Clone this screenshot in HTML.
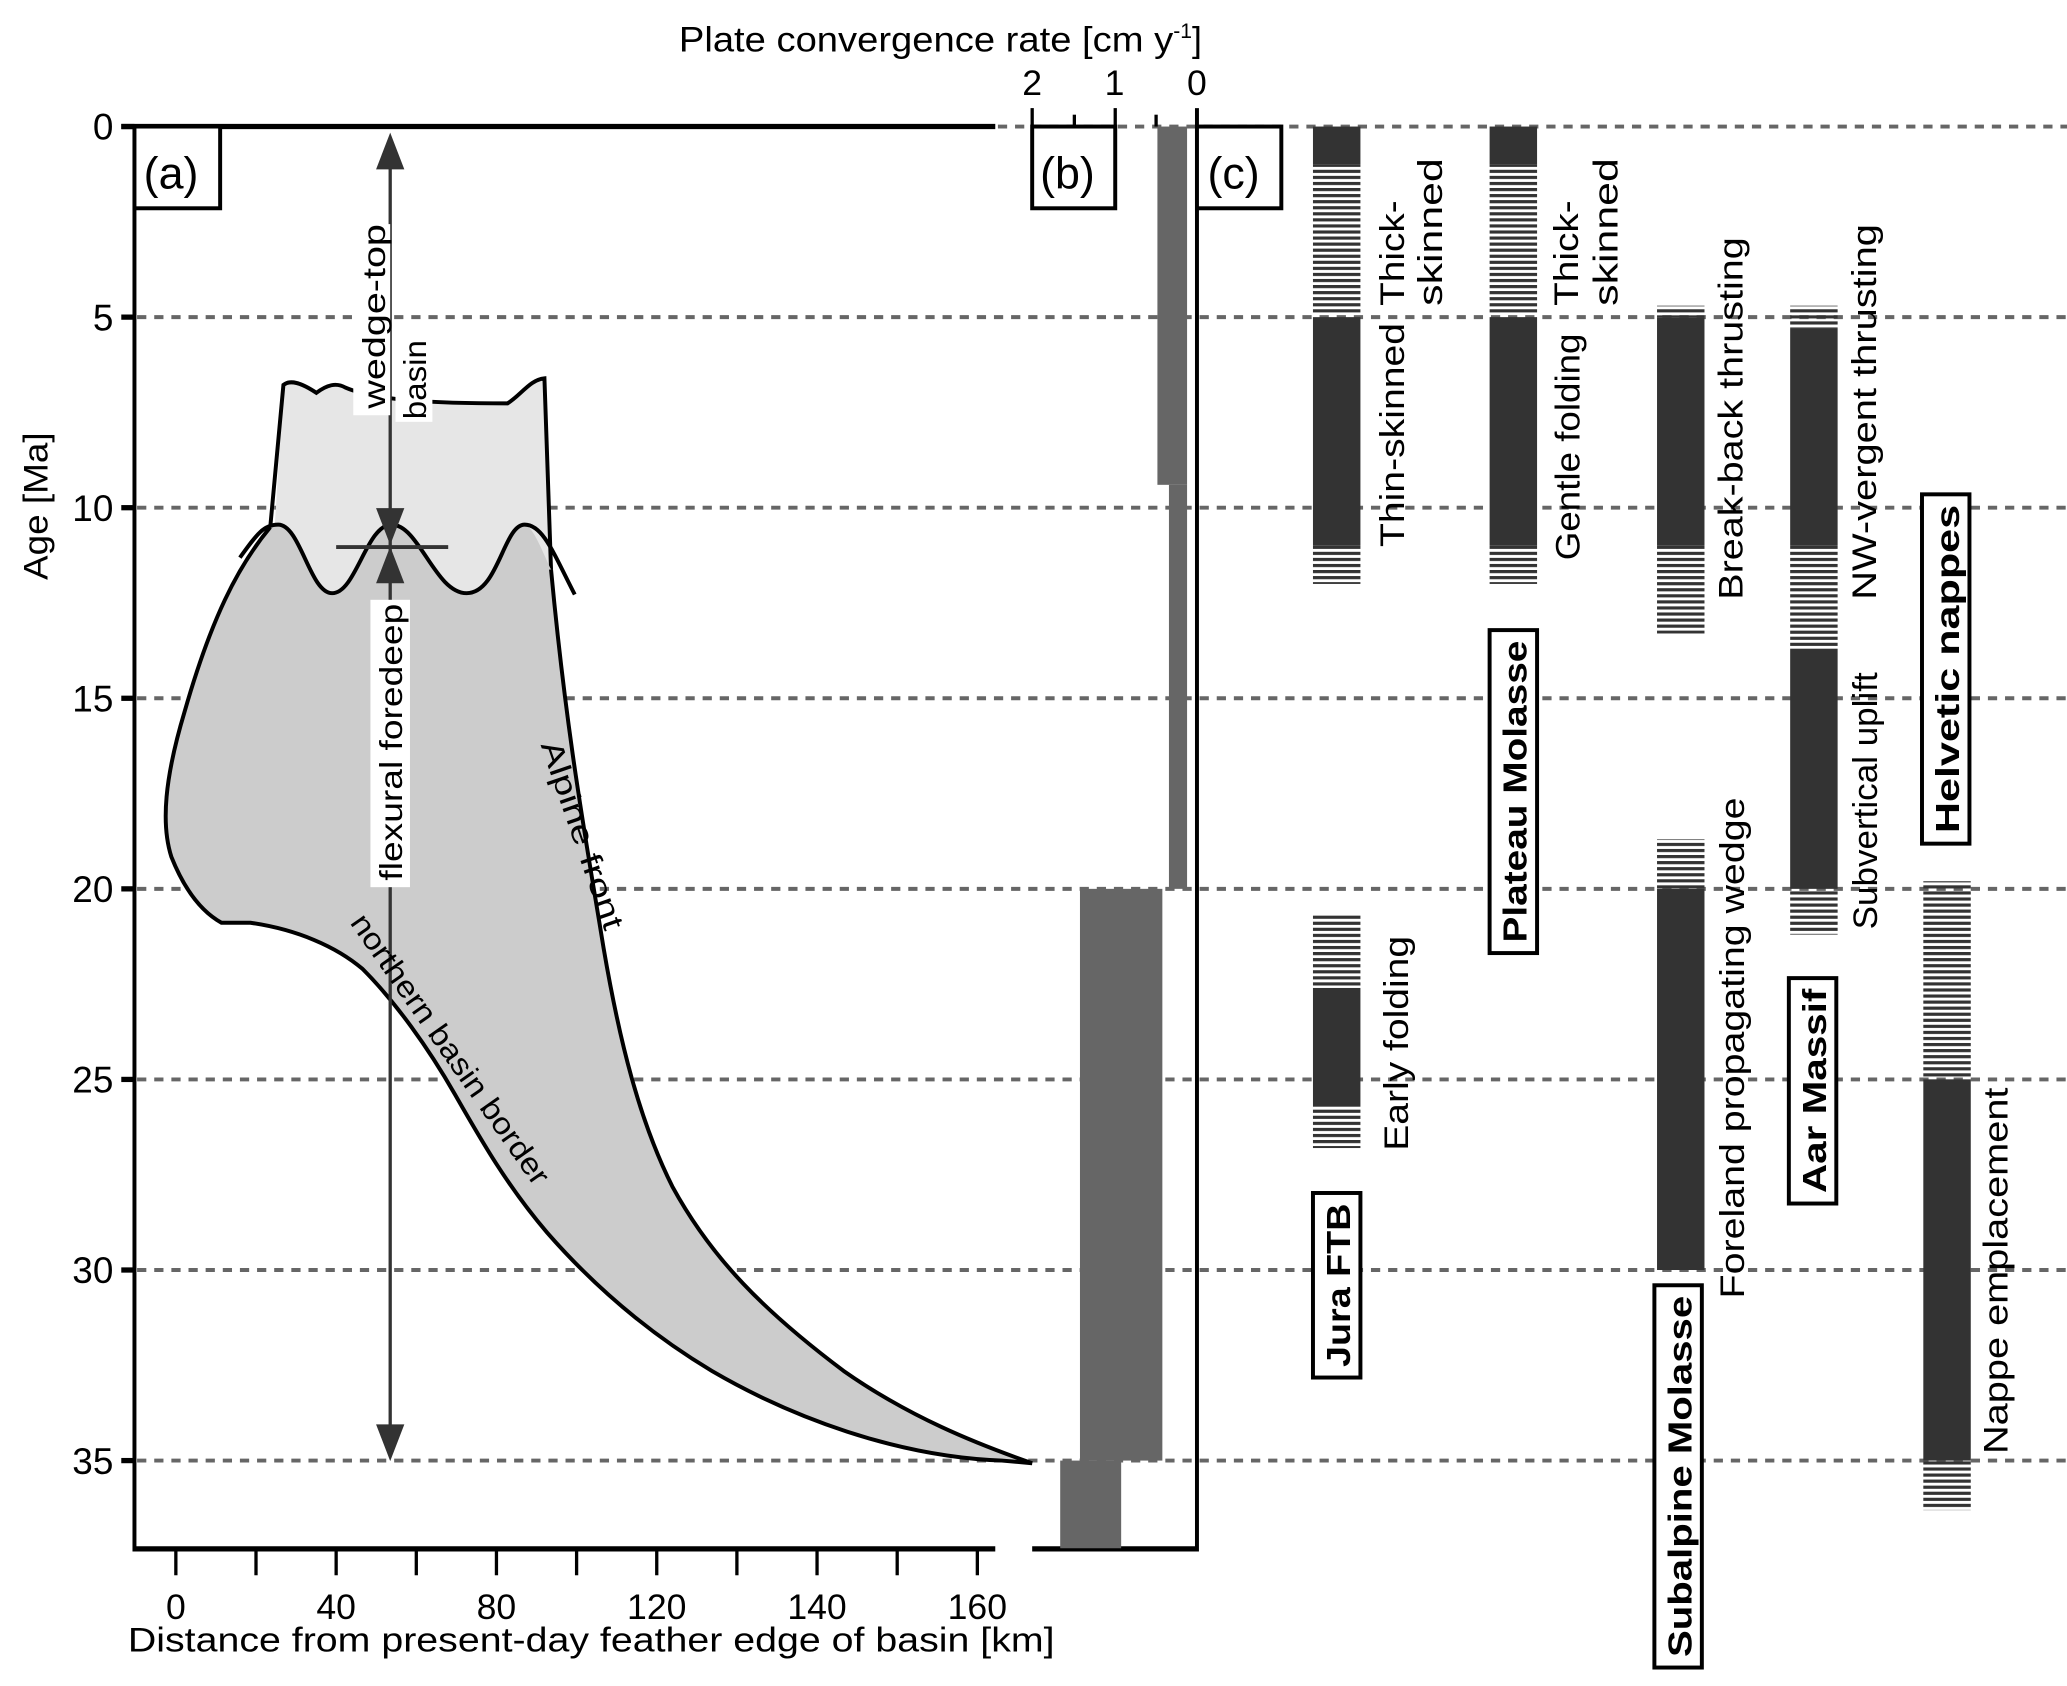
<!DOCTYPE html>
<html><head><meta charset="utf-8"><style>
html,body{margin:0;padding:0;background:#fff}
svg{display:block}
text{font-family:"Liberation Sans",sans-serif;fill:#000}
</style></head><body>
<svg id="chart" width="2067" height="1686" viewBox="0 0 1568 1279" preserveAspectRatio="none" xmlns="http://www.w3.org/2000/svg">
<defs>
<pattern id="hatch" patternUnits="userSpaceOnUse" width="10" height="4.6"><rect x="0" y="0" width="10" height="2.4" fill="#333"/></pattern>
</defs>
<g id="grid"></g>

<path d="M215,292 C220,288 228,290 240,298 C248,292 255,290 262,294 C285,304 330,306 385,306 C395,300 402,288 413,287 L418,455 L205,455 Z" fill="#e6e6e6" stroke="none"/>
<path d="M205,400 L215,292 C220,288 228,290 240,298 C248,292 255,290 262,294 C285,304 330,306 385,306 C395,300 402,288 413,287 L418,432" fill="none" stroke="#000" stroke-width="3"/>
<path d="M205,400 C180,430 160,470 140,540 C125,590 122,625 130,650 C138,670 150,690 168,700 L190,700 C225,705 255,718 275,735 C300,760 325,795 345,830 C365,865 385,900 415,935 C450,975 490,1010 540,1040 C600,1075 680,1105 760,1108 L783,1110 C740,1095 690,1075 640,1040 C580,995 540,955 510,900 C485,850 470,790 458,720 C445,640 430,560 418,432 C412,420 405,400 398,398 C382,398 378,450 354,450 C330,450 318,398 297,398 C278,398 270,450 252,450 C235,450 228,398 211,398 Z" fill="#cccccc" stroke="none"/>
<path d="M205,400 C180,430 160,470 140,540 C125,590 122,625 130,650 C138,670 150,690 168,700 L190,700 C225,705 255,718 275,735 C300,760 325,795 345,830 C365,865 385,900 415,935 C450,975 490,1010 540,1040 C600,1075 680,1105 760,1108 L783,1110" fill="none" stroke="#000" stroke-width="3"/>
<path d="M418,432 C430,560 445,640 458,720 C470,790 485,850 510,900 C540,955 580,995 640,1040 C690,1075 740,1095 783,1110" fill="none" stroke="#000" stroke-width="3"/>
<path d="M182,423 C195,405 200,398 211,398 C228,398 235,450 252,450 C270,450 278,398 297,398 C318,398 330,450 354,450 C378,450 382,398 398,398 C412,398 420,420 436,451" fill="none" stroke="#000" stroke-width="3"/>

<g stroke="#333" fill="#333">
<line x1="296" y1="110" x2="296" y2="1100" stroke-width="2.5"/>
<polygon points="296,102 286,128 306,128"/>
<polygon points="296,412 286,386 306,386"/>
<polygon points="296,416 286,442 306,442"/>
<polygon points="296,1107 286,1081 306,1081"/>
<line x1="255" y1="415" x2="340" y2="415" stroke-width="3"/>
</g>
<rect x="268" y="170" width="28" height="145" fill="#fff"/>
<text transform="translate(292,310) rotate(-90)" font-size="24" textLength="140" lengthAdjust="spacingAndGlyphs">wedge-top</text>
<rect x="300" y="258" width="28" height="62" fill="#fff"/>
<text transform="translate(323,318) rotate(-90)" font-size="24" textLength="60" lengthAdjust="spacingAndGlyphs">basin</text>
<rect x="281" y="455" width="30" height="218" fill="#fff"/>
<text transform="translate(305,668) rotate(-90)" font-size="24" textLength="210" lengthAdjust="spacingAndGlyphs">flexural foredeep</text>
<text transform="translate(410,565) rotate(71)" font-size="23" textLength="150" lengthAdjust="spacingAndGlyphs">Alpine front</text>
<text transform="translate(265,700) rotate(55)" font-size="23" textLength="245" lengthAdjust="spacingAndGlyphs">northern basin border</text>

<g stroke="#000" fill="none">
<line x1="92" y1="96" x2="755" y2="96" stroke-width="4"/>
<line x1="102" y1="96" x2="102" y2="1177" stroke-width="3"/>
<line x1="102" y1="1175" x2="755" y2="1175" stroke-width="4"/>
<line x1="783" y1="1175" x2="908" y2="1175" stroke-width="4"/>
<line x1="908" y1="82" x2="908" y2="1177" stroke-width="3"/>
<line x1="783" y1="82" x2="783" y2="96" stroke-width="2.5"/>
<line x1="815" y1="87" x2="815" y2="96" stroke-width="2.5"/>
<line x1="846" y1="82" x2="846" y2="96" stroke-width="2.5"/>
<line x1="877" y1="87" x2="877" y2="96" stroke-width="2.5"/>
</g>
<g id="yaxis"></g>
<g id="xaxis"></g>
<text transform="translate(36,440) rotate(-90)" font-size="26" textLength="112" lengthAdjust="spacingAndGlyphs">Age [Ma]</text>
<text x="97" y="1253" font-size="26" textLength="703" lengthAdjust="spacingAndGlyphs">Distance from present-day feather edge of basin [km]</text>
<text x="515" y="39" font-size="27"><tspan textLength="375" lengthAdjust="spacingAndGlyphs">Plate convergence rate [cm y</tspan><tspan font-size="16" dy="-10">-1</tspan><tspan dy="10">]</tspan></text>
<g id="rateaxis"></g>
<g id="ratebars"></g>

<g>
<rect x="102" y="96" width="65" height="62" fill="#fff" stroke="#000" stroke-width="3"/>
<text x="109" y="143" font-size="34">(a)</text>
<rect x="783" y="96" width="63" height="62" fill="#fff" stroke="#000" stroke-width="3"/>
<text x="789" y="143" font-size="34">(b)</text>
<rect x="908" y="96" width="64" height="62" fill="#fff" stroke="#000" stroke-width="3"/>
<text x="916" y="143" font-size="34">(c)</text>
</g>
<g id="cbars"></g>
<g id="clabels"></g>
</svg>
<script>
var ageTicks = [0,5,10,15,20,25,30,35];
var kmTickLabels = ["0","40","80","120","140","160"];
var kmTickLabelIdx = [0,2,4,6,8,10];
var kmTickCount = 11;
var rateTicks = [2,1,0];
var rateAgeStart = [0, 9.4, 20, 35];
var rateAgeEnd = [9.4, 20, 35, 37.3];
var rateHigh = [0.48, 0.34, 1.42, 1.66];
var rateLow = [0.12, 0.12, 0.42, 0.92];
var segColumn = [0,0,0,0,0,0,0, 1,1,1,1, 2,2,2,2,2, 3,3,3,3,3, 4,4,4];
var segStart  = [0,1,5,11,20.7,22.6,25.7, 0,1,5,11, 4.7,5,11,18.7,20, 4.7,5.3,11,13.7,20, 19.8,25,35];
var segEnd    = [1,4.9,11,12,22.6,25.7,26.8, 1,4.9,11,12, 5,11,13.3,20,30, 5.3,11,13.7,20,21.2, 25,35,36.3];
var segType   = ["s","h","s","h","h","s","h", "s","h","s","h", "h","s","h","h","s", "h","s","h","s","h", "h","s","h"];
var columnX = [996,1130,1257,1358,1459];

(function(){
var NS="http://www.w3.org/2000/svg";
function yA(a){return 96 + a*(1108-96)/35;}
function xKmIdx(i){return 133.4 + i*60.8;}
function xRate(r){return 908 - r*62.5;}
function mk(tag, attrs, parent, txt){var e=document.createElementNS(NS,tag);for(var k in attrs)e.setAttribute(k,attrs[k]);if(txt!==undefined)e.textContent=txt;parent.appendChild(e);return e;}
var i,el;
var grid=document.getElementById('grid');
ageTicks.forEach(function(a){
  el=mk('line',{x1:a===0?757:104,x2:1568,y1:yA(a),y2:yA(a),stroke:'#666','stroke-width':3,'stroke-dasharray':'7,6'},grid);
  
  
});
var ya=document.getElementById('yaxis');
ageTicks.forEach(function(a){
  el=mk('line',{x1:92,x2:102,y1:yA(a),y2:yA(a),stroke:'#000','stroke-width':4},ya);
  
  
  el=mk('text',{x:86,y:yA(a)+10,'font-size':28,'text-anchor':'end'},ya,String(a));
  
  
});
var xa=document.getElementById('xaxis');
for(i=0;i!==kmTickCount;i++){
  el=mk('line',{x1:xKmIdx(i),x2:xKmIdx(i),y1:1175,y2:1195,stroke:'#000','stroke-width':2.5},xa);
  
  
}
kmTickLabels.forEach(function(s,j){
  el=mk('text',{x:xKmIdx(kmTickLabelIdx[j]),y:1228,'font-size':27,'text-anchor':'middle'},xa,s);
  
  
});
var ra=document.getElementById('rateaxis');
rateTicks.forEach(function(r){
  el=mk('text',{x:xRate(r),y:72,'font-size':27,'text-anchor':'middle'},ra,String(r));
  
  
});
var rb=document.getElementById('ratebars');
rateAgeStart.forEach(function(s,k){
  el=mk('rect',{x:xRate(rateHigh[k]),y:yA(s),width:xRate(rateLow[k])-xRate(rateHigh[k]),height:yA(rateAgeEnd[k])-yA(s),fill:'#666'},rb);
  
  
});
var cb=document.getElementById('cbars');
segColumn.forEach(function(c,k){
  var h=yA(segEnd[k])-yA(segStart[k]);
  if(!(h>0))return;
  el=mk('rect',{x:columnX[c],y:yA(segStart[k]),width:36,height:h,fill:segType[k]==='s'?'#333':'url(#hatch)'},cb);
  
  
});
var cl=document.getElementById('clabels');
var labs=[
 [1065,232,80,"Thick-"],[1094,232,112,"skinned"],[1065,415,170,"Thin-skinned"],[1068,873,163,"Early folding"],
 [1197,232,80,"Thick-"],[1227,232,112,"skinned"],[1198,425,172,"Gentle folding"],
 [1322,455,275,"Break-back thrusting"],[1323,985,380,"Foreland propagating wedge"],
 [1423,455,285,"NW-vergent thrusting"],[1424,705,195,"Subvertical uplift"],
 [1523,1103,278,"Nappe emplacement"]];
labs.forEach(function(l){
  el=mk('text',{transform:'translate('+l[0]+','+l[1]+') rotate(-90)','font-size':26,textLength:l[2],lengthAdjust:'spacingAndGlyphs'},cl,l[3]);
  
  
});
var boxes=[[996,905,1045,"Jura FTB"],[1130,478,723,"Plateau Molasse"],[1255,975,1265,"Subalpine Molasse"],[1357,742,913,"Aar Massif"],[1458,375,640,"Helvetic nappes"]];
boxes.forEach(function(b){
  el=mk('rect',{x:b[0],y:b[1],width:36,height:b[2]-b[1],fill:'#fff',stroke:'#000','stroke-width':3},cl);
  
  
  el=mk('text',{transform:'translate('+(b[0]+28)+','+(b[2]-8)+') rotate(-90)','font-size':25,'font-weight':'bold',textLength:b[2]-b[1]-16,lengthAdjust:'spacingAndGlyphs'},cl,b[3]);
  
  
});
})();
</script>
</body></html>
